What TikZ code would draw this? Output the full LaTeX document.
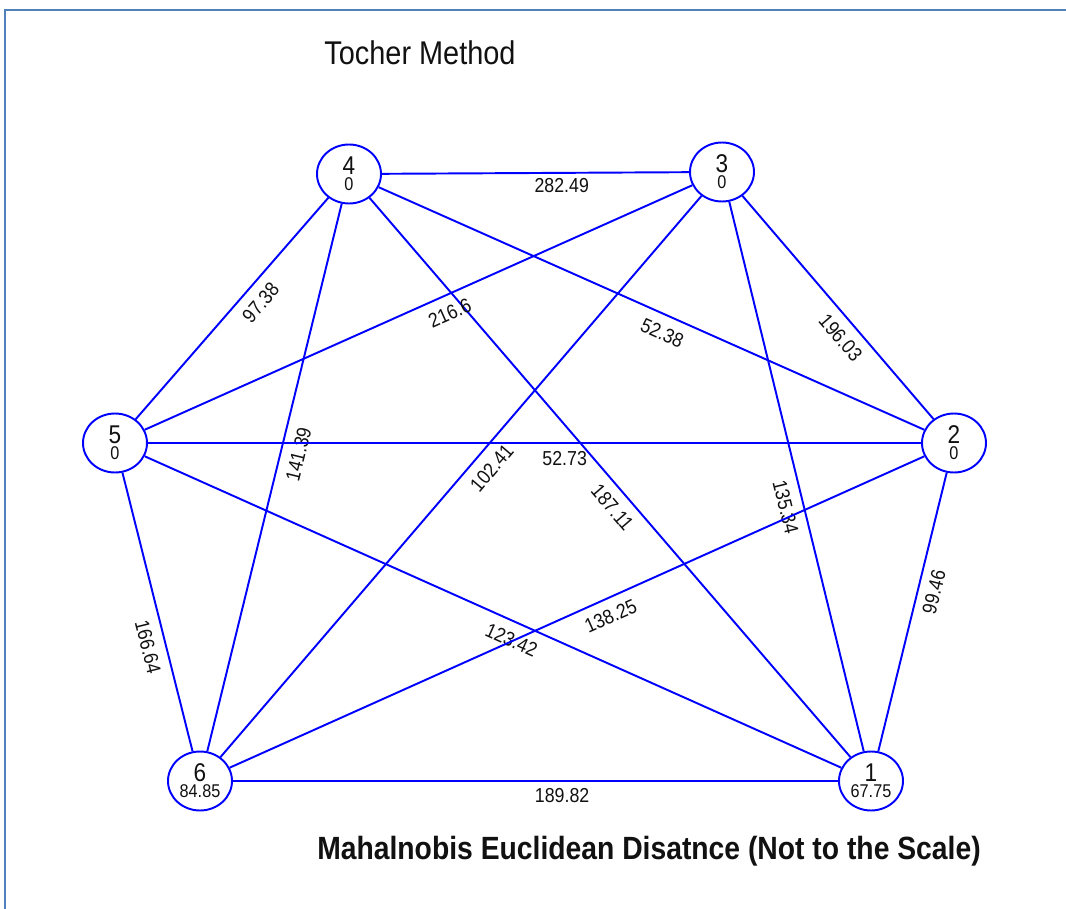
\documentclass[tikz,border=0pt]{standalone}
\usepackage{fontspec}
\setmainfont{Liberation Sans}[FakeStretch=0.88]
\usepackage{tikz}
\usetikzlibrary{shapes.geometric}
\definecolor{ink}{HTML}{111111}
\definecolor{edgec}{HTML}{0000FF}
\definecolor{framec}{HTML}{4F81BD}

\begin{document}
\begin{tikzpicture}[x=0.02cm,y=-0.02cm,every node/.style={font=\fontsize{11.5}{12}\selectfont,text=ink}]
\tikzstyle{vert}=[ellipse,draw=edgec,line width=1.1pt,fill=white,minimum width=1.28cm,minimum height=1.18cm,inner sep=0pt]
\tikzstyle{edge}=[draw=edgec,line width=1.1pt]
\tikzstyle{elbl}=[sloped,below,inner sep=5.5pt]
\tikzstyle{numt}=[yshift=4.6pt,font=\fontsize{14.6}{15}\selectfont]
\tikzstyle{valt}=[yshift=-5.7pt,font=\fontsize{10.5}{11}\selectfont]
\useasboundingbox (0,0) rectangle (1066,909);
\draw[framec,line width=1.2pt] (5,909) -- (5,10) -- (1066,10);
\node (title) at (420,53) {\fontsize{18.7}{20}\selectfont Tocher Method};
\node[vert,label={[numt]center:4},label={[valt]center:0}] (n4) at (349,174) {};
\node[vert,label={[numt]center:3},label={[valt]center:0}] (n3) at (722,172) {};
\node[vert,label={[numt]center:5},label={[valt]center:0}] (n5) at (115,443) {};
\node[vert,label={[numt]center:2},label={[valt]center:0}] (n2) at (954,443) {};
\node[vert,label={[numt]center:6},label={[valt]center:84.85}] (n6) at (200,781) {};
\node[vert,label={[numt]center:1},label={[valt]center:67.75}] (n1) at (871,781) {};
\draw[edge] (n4) -- node[elbl,pos=0.585,inner sep=2.5pt] {282.49} (n3);
\draw[edge] (n5) -- node[elbl,pos=0.579] {97.38} (n4);
\draw[edge] (n6) -- node[elbl,pos=0.55] {141.39} (n4);
\draw[edge] (n4) -- node[elbl,pos=0.533] {187.11} (n1);
\draw[edge] (n4) -- node[elbl,pos=0.533] {52.38} (n2);
\draw[edge] (n5) -- node[elbl,pos=0.544] {216.6} (n3);
\draw[edge] (n6) -- node[elbl,pos=0.536] {102.41} (n3);
\draw[edge] (n3) -- node[elbl,pos=0.548] {135.34} (n1);
\draw[edge] (n3) -- node[elbl,pos=0.584] {196.03} (n2);
\draw[edge] (n5) -- node[elbl,pos=0.539,inner sep=4pt] {52.73} (n2);
\draw[edge] (n5) -- node[elbl,pos=0.61] {166.64} (n6);
\draw[edge] (n5) -- node[elbl,pos=0.537] {123.42} (n1);
\draw[edge] (n6) -- node[elbl,pos=0.538] {138.25} (n2);
\draw[edge] (n6) -- node[elbl,pos=0.544,inner sep=3.5pt] {189.82} (n1);
\draw[edge] (n1) -- node[elbl,pos=0.586,inner sep=4.5pt] {99.46} (n2);
\node (caption) at (649,851) {\fontsize{18.3}{20}\selectfont\bfseries Mahalnobis Euclidean Disatnce (Not to the Scale)};
\end{tikzpicture}
\end{document}
